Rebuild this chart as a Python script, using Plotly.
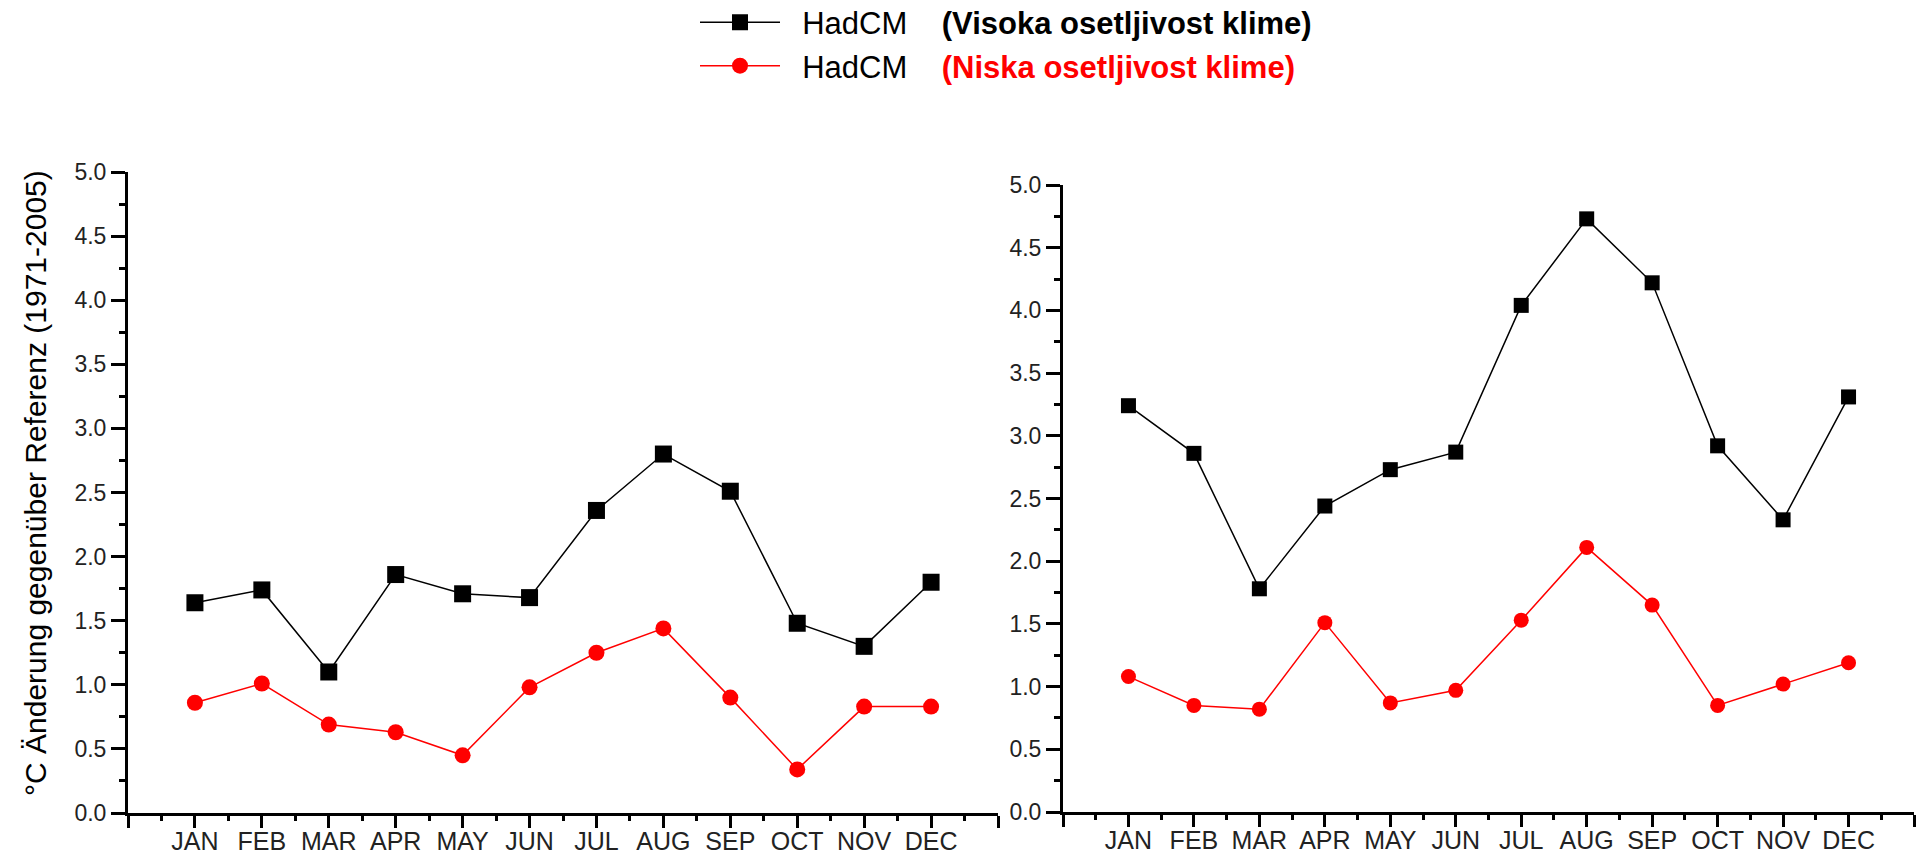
import plotly.graph_objects as go

# ---- data ----
months = ["JAN", "FEB", "MAR", "APR", "MAY", "JUN", "JUL", "AUG", "SEP", "OCT", "NOV", "DEC"]
high_left = [1.64, 1.74, 1.10, 1.86, 1.71, 1.68, 2.36, 2.80, 2.51, 1.48, 1.30, 1.80]
low_left = [0.86, 1.01, 0.69, 0.63, 0.45, 0.98, 1.25, 1.44, 0.90, 0.34, 0.83, 0.83]
high_right = [3.24, 2.86, 1.78, 2.44, 2.73, 2.87, 4.04, 4.73, 4.22, 2.92, 2.33, 3.31]
low_right = [1.08, 0.85, 0.82, 1.51, 0.87, 0.97, 1.53, 2.11, 1.65, 0.85, 1.02, 1.19]
y_ticks = [0.0, 0.5, 1.0, 1.5, 2.0, 2.5, 3.0, 3.5, 4.0, 4.5, 5.0]
series_label = "HadCM"
high_label = "(Visoka osetljivost klime)"
low_label = "(Niska osetljivost klime)"
y_title = "°C Änderung gegenüber Referenz (1971-2005)"

x_pos = list(range(1, len(months) + 1))
FONT = "Liberation Sans, Arial, sans-serif"
NB = "\u00a0"

fig = go.Figure()

def add_pair(xa, ya, high, low, show, sq, ci):
    fig.add_trace(go.Scatter(
        x=x_pos, y=high, xaxis=xa, yaxis=ya, mode="lines+markers",
        line=dict(color="black", width=1.5),
        marker=dict(symbol="square", size=sq, color="black"),
        name=NB * 2 + series_label + NB * 4 + "<b>" + high_label + "</b>",
        showlegend=show, legendrank=1))
    fig.add_trace(go.Scatter(
        x=x_pos, y=low, xaxis=xa, yaxis=ya, mode="lines+markers",
        line=dict(color="#ff0000", width=1.5),
        marker=dict(symbol="circle", size=ci, color="#ff0000"),
        name=NB * 2 + series_label + NB * 4 + "<b><span style='color:#ff0000'>" + low_label + "</span></b>",
        showlegend=show, legendrank=2))

add_pair("x", "y", high_left, low_left, True, 17, 16)
add_pair("x2", "y2", high_right, low_right, False, 15, 15)

n = len(months)
x_major = list(range(0, n + 2))
x_text = [""] + months + [""]
x_minor = [v + 0.5 for v in range(0, n + 1)]
y_minor = [v * 0.25 for v in range(0, 21)]

def xaxis_cfg(domain, anchor):
    return dict(domain=domain, anchor=anchor, range=[0, n + 1], automargin=False,
                tickmode="array", tickvals=x_major, ticktext=x_text,
                ticks="outside", ticklen=12, tickwidth=3, tickcolor="black",
                ticklabelstandoff=-8,
                showline=True, linewidth=3, linecolor="black",
                showgrid=False, zeroline=False,
                tickfont=dict(family=FONT, size=25, color="#222"),
                minor=dict(tickmode="array", tickvals=x_minor, ticks="outside",
                           ticklen=5, tickwidth=3, tickcolor="black", showgrid=False))

def yaxis_cfg(domain, anchor):
    return dict(domain=domain, anchor=anchor, range=[0, 5], automargin=False,
                tickmode="array", tickvals=y_ticks, ticktext=[f"{v:.1f}" for v in y_ticks],
                ticks="outside", ticklen=14, tickwidth=3, tickcolor="black",
                showline=True, linewidth=3, linecolor="black",
                showgrid=False, zeroline=False,
                tickfont=dict(family=FONT, size=23, color="#222"),
                minor=dict(tickmode="array", tickvals=y_minor, ticks="outside",
                           ticklen=6, tickwidth=3, tickcolor="black", showgrid=False))

fig.update_layout(
    width=1917, height=856,
    margin=dict(l=0, r=0, t=0, b=0, autoexpand=False),
    paper_bgcolor="white", plot_bgcolor="white",
    font=dict(family=FONT, color="black"),
    xaxis=xaxis_cfg([128 / 1917, 998 / 1917], "y"),
    yaxis=yaxis_cfg([(856 - 813) / 856, (856 - 172) / 856], "x"),
    xaxis2=xaxis_cfg([1063 / 1917, 1914 / 1917], "y2"),
    yaxis2=yaxis_cfg([(856 - 812) / 856, (856 - 185) / 856], "x2"),
    legend=dict(x=695 / 1917, y=1.005, xanchor="left", yanchor="top",
                font=dict(family=FONT, size=31, color="black"),
                itemwidth=80, tracegroupgap=0, bgcolor="rgba(0,0,0,0)"),
    showlegend=True,
    annotations=[dict(text=y_title, textangle=-90, x=36 / 1917, y=(856 - 483) / 856,
                      xref="paper", yref="paper", xanchor="center", yanchor="middle",
                      showarrow=False,
                      font=dict(family=FONT, size=30, color="black"))],
)

fig.write_html("out.html")
